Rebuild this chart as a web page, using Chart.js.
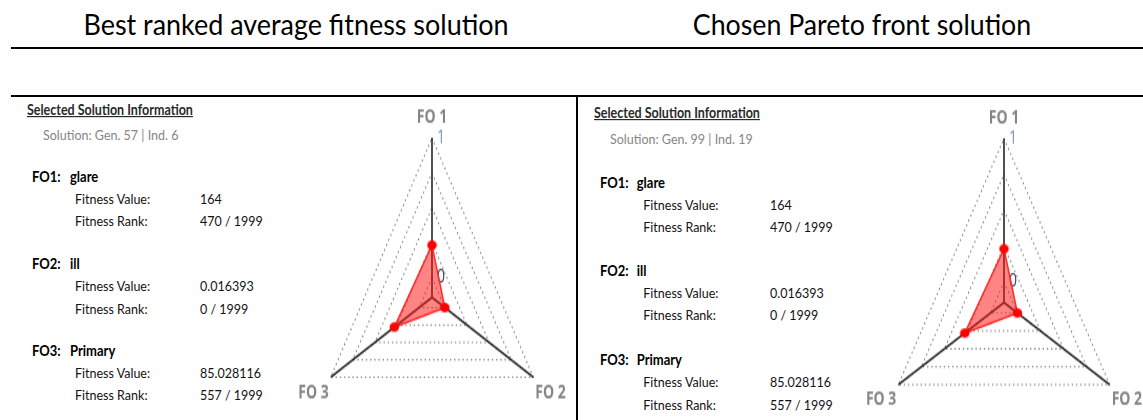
<!DOCTYPE html>
<html>
<head>
<meta charset="utf-8">
<script src="https://cdn.jsdelivr.net/npm/chart.js@4.4.1/dist/chart.umd.min.js"></script>
<style>
  html, body { margin: 0; padding: 0; background: #fff; }
  body { position: relative; width: 1143px; height: 420px; overflow: hidden; }
  .rule { position: absolute; background: #000; }
  .t { position: absolute; line-height: 1; white-space: pre; font-family: Lato, "Open Sans", sans-serif; }
  canvas { position: absolute; transform-origin: 0 0; }
</style>
</head>
<body>
<div class="rule" style="left:11px;top:47px;width:1132px;height:2px"></div>
<div class="rule" style="left:11px;top:95px;width:1132px;height:2px"></div>
<div class="rule" style="left:576px;top:95px;width:2px;height:325px"></div>

<canvas id="radarLeft" width="308" height="268" style="left:278px;top:101.4px;transform:scaleY(1.364)"></canvas>
<canvas id="radarRight" width="318" height="278" style="left:845px;top:101.9px;transform:scaleY(1.346)"></canvas>

<script>
// titles above the two panels
const titles = ['Best ranked average fitness solution', 'Chosen Pareto front solution'];

// info panel text
const solutions = ['Solution: Gen. 57 | Ind. 6', 'Solution: Gen. 99 | Ind. 19'];
const objectiveIds = ['FO1:', 'FO2:', 'FO3:'];
const objectiveNames = ['glare', 'ill', 'Primary'];
const fitnessValues = ['164', '0.016393', '85.028116'];
const fitnessRanks = ['470 / 1999', '0 / 1999', '557 / 1999'];

// radar chart
const axisLabels = ['FO 1', 'FO 2', 'FO 3'];
const tickValues = [0, 0.25, 0.5, 0.75, 1];
const leftValues = [0.23, 0, 0.28];
const rightValues = [0.23, 0, 0.28];

function put(x, base, str, size, style) {
  const d = document.createElement('div');
  d.className = 't';
  d.textContent = str;
  d.style.left = x + 'px';
  d.style.top = (base - 0.887 * size) + 'px';
  d.style.fontSize = size + 'px';
  d.style.transformOrigin = '0 88.7%';
  Object.assign(d.style, style || {});
  document.body.appendChild(d);
  return d;
}

// titles, fitted to the width they have in the picture
[[296, 425], [862, 338]].forEach(([cx, w], i) => {
  const d = put(cx, 35, titles[i], 28, { color: '#000', transformOrigin: '50% 88.7%' });
  const k = w / d.offsetWidth;
  d.style.transform = 'translateX(-50%) scale(' + k + ', 1.03)';
});

// info panels
const body = { color: '#111', transform: 'scaleY(1.1)' };
const bold = { fontWeight: 'bold', color: '#000', transform: 'scaleY(1.1)' };
const panels = [
  { hx: 27, hy: 116, sx: 43, sy: 140.7, fx: 32, nx: 70, lx: 75, vx: 200, rows: [182.7, 270, 356.7], dy: 22.3 },
  { hx: 594, hy: 119.3, sx: 610, sy: 145, fx: 600, nx: 636.7, lx: 643.3, vx: 770, rows: [188.3, 276.7, 366], dy: 22.3 }
];
panels.forEach((p, k) => {
  put(p.hx, p.hy, 'Selected Solution Information', 12.5,
    { fontWeight: 'bold', color: '#2a2a2a', textDecoration: 'underline', transform: 'scaleY(1.2)' });
  put(p.sx, p.sy, solutions[k], 12.5, { color: '#858585', transform: 'scaleY(1.1)' });
  p.rows.forEach((y, i) => {
    put(p.fx, y, objectiveIds[i], 13, bold);
    put(p.nx, y, objectiveNames[i], 13, bold);
    put(p.lx, y + p.dy, 'Fitness Value:', 12.5, body);
    put(p.vx, y + p.dy, fitnessValues[i], 12.5, body);
    put(p.lx, y + 2 * p.dy, 'Fitness Rank:', 12.5, body);
    put(p.vx, y + 2 * p.dy, fitnessRanks[i], 12.5, body);
  });
});

// round red dot, squashed so the vertical stretch of the canvas makes it round again
function dot(s) {
  const c = document.createElement('canvas');
  c.width = 11; c.height = 11;
  const g = c.getContext('2d');
  g.fillStyle = '#ff0000';
  g.beginPath();
  g.ellipse(5.5, 5.5, 4.8, 4.8 / s, 0, 0, Math.PI * 2);
  g.fill();
  return c;
}

const axisTitles = {
  id: 'axisTitles',
  afterDraw(chart) {
    const sc = chart.scales.r, ctx = chart.ctx;
    ctx.save();
    ctx.font = 'bold 14px "Open Sans"';
    ctx.fillStyle = '#858585';
    ctx.textBaseline = 'alphabetic';
    axisLabels.forEach((t, i) => {
      const p = sc.getPointPosition(i, sc.drawingArea);
      if (i === 0) { ctx.textAlign = 'center'; ctx.fillText(t, p.x, p.y - 11.4); }
      else if (i === 1) { ctx.textAlign = 'left'; ctx.fillText(t, p.x + 2, p.y + 15.4); }
      else { ctx.textAlign = 'right'; ctx.fillText(t, p.x - 2, p.y + 15.4); }
    });
    ctx.restore();
  }
};

function radar(id, values, s) {
  new Chart(document.getElementById(id), {
    type: 'radar',
    data: {
      labels: axisLabels,
      datasets: [{
        data: values,
        backgroundColor: 'rgba(255,20,20,0.52)',
        borderColor: '#ff2a2a',
        borderWidth: 1.5,
        pointStyle: dot(s),
        pointRadius: 5
      }]
    },
    options: {
      responsive: false,
      animation: false,
      layout: { padding: { left: 30, right: 30, top: 20, bottom: 0 } },
      plugins: { legend: { display: false }, tooltip: { enabled: false } },
      scales: {
        r: {
          min: -0.1455,
          max: 1,
          afterBuildTicks: ax => { ax.ticks = tickValues.map(v => ({ value: v })); },
          angleLines: { color: '#333', lineWidth: 1.7 },
          grid: { color: '#7a7a7a', lineWidth: 1.1 },
          border: { dash: [1.4, 2.8] },
          pointLabels: { display: false },
          ticks: {
            font: { family: 'Open Sans', size: 14 },
            color: c => c.tick && c.tick.value === 0 ? '#34405a' : '#7d93b3',
            backdropPadding: 0,
            showLabelBackdrop: false,
            callback: v => v === 0 ? '     0' : v === 1 ? '     1' : ''
          }
        }
      }
    },
    plugins: [axisTitles]
  });
}

radar('radarLeft', leftValues, 1.364);
radar('radarRight', rightValues, 1.346);
</script>
</body>
</html>
